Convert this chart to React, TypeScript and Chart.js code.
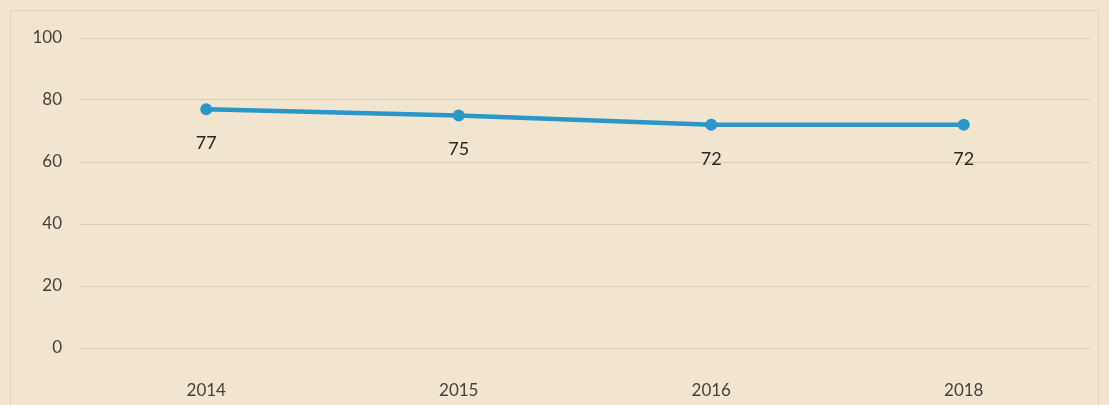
import React, { useEffect, useRef } from "react";
import { Chart, registerables } from "chart.js";

Chart.register(...registerables);

const categories = ["2014", "2015", "2016", "2018"];
const values = [77, 75, 72, 72];
const yTicks = [0, 20, 40, 60, 80, 100];

const FONT = "Lato, 'Open Sans', sans-serif";

const pointLabels = {
  id: "pointLabels",
  afterDatasetsDraw(chart: any) {
    const ctx = chart.ctx;
    const meta = chart.getDatasetMeta(0);
    ctx.save();
    ctx.fillStyle = "#2a2622";
    ctx.font = "18px " + FONT;
    ctx.textAlign = "center";
    ctx.textBaseline = "middle";
    meta.data.forEach((pt: any, i: number) => {
      ctx.fillText(String(values[i]), pt.x, pt.y + 34);
    });
    ctx.restore();
  },
};

const paperFrame = {
  id: "paperFrame",
  beforeDraw(chart: any) {
    const ctx = chart.ctx;
    ctx.save();
    ctx.fillStyle = "#f2e5cf";
    ctx.fillRect(0, 0, chart.width, chart.height);
    ctx.strokeStyle = "rgba(170,150,120,0.22)";
    ctx.lineWidth = 1;
    ctx.strokeRect(10.5, 10.5, chart.width - 21, chart.height - 10);
    ctx.restore();
  },
};

export default function App() {
  const ref = useRef<HTMLCanvasElement | null>(null);
  useEffect(() => {
    document.body.style.margin = "0";
    const chart = new Chart(ref.current!, {
      type: "line",
      data: {
        labels: categories,
        datasets: [
          {
            data: values,
            borderColor: "#2a96c9",
            backgroundColor: "#2a96c9",
            borderWidth: 4.5,
            pointRadius: 6,
            pointBackgroundColor: "#2a96c9",
            pointBorderWidth: 0,
            tension: 0,
          },
        ],
      },
      options: {
        animation: false,
        responsive: false,
        maintainAspectRatio: false,
        layout: { padding: { top: 38, right: 19, left: 0, bottom: 0 } },
        plugins: { legend: { display: false }, tooltip: { enabled: false } },
        scales: {
          x: {
            offset: true,
            grid: { display: false },
            border: { display: false },
            ticks: {
              color: "#46413b",
              font: { size: 17, family: FONT },
              padding: 24,
            },
            afterFit(scale: any) {
              scale.height = 57;
            },
          },
          y: {
            min: 0,
            max: 100,
            afterBuildTicks(scale: any) {
              scale.ticks = yTicks.map((v) => ({ value: v }));
            },
            grid: {
              color: "rgba(160,140,110,0.28)",
              drawTicks: false,
            },
            border: { display: false },
            ticks: {
              color: "#46413b",
              font: { size: 17, family: FONT },
              padding: 18,
            },
            afterFit(scale: any) {
              scale.width = 80;
            },
          },
        },
      },
      plugins: [paperFrame, pointLabels],
    });
    return () => chart.destroy();
  }, []);
  return (
    <div style={{ width: 1109, height: 405, background: "#f2e5cf" }}>
      <canvas ref={ref} width={1109} height={405} style={{ display: "block" }} />
    </div>
  );
}
